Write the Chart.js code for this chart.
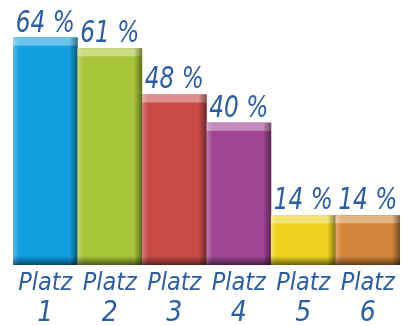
<!DOCTYPE html>
<html>
<head>
<meta charset="utf-8">
<script src="https://cdn.jsdelivr.net/npm/chart.js@4"></script>
<style>
  html, body { margin: 0; padding: 0; background: #fff; }
  #wrap { width: 408px; height: 326px; position: relative; }
</style>
</head>
<body>
<div id="wrap"><canvas id="platzChart"></canvas></div>
<script>
// --- data ---
const categories = ['Platz 1', 'Platz 2', 'Platz 3', 'Platz 4', 'Platz 5', 'Platz 6'];
const shares = [64, 61, 48, 40, 14, 14];
const valueLabels = ['64 %', '61 %', '48 %', '40 %', '14 %', '14 %'];
const barColors = ['#129fdf', '#a8c63a', '#c84b48', '#a04593', '#eed321', '#d4863b'];

const textBlue = '#2b5d9f';
const handFont = '"DejaVu Sans Condensed", "Liberation Sans Narrow", sans-serif';

// bevel look: light top strip, dark right and bottom edges
const bevelPlugin = {
  id: 'bevel',
  afterDatasetsDraw(chart) {
    const c = chart.ctx;
    chart.getDatasetMeta(0).data.forEach(bar => {
      const left = bar.x - bar.width / 2;
      const right = bar.x + bar.width / 2;
      const top = bar.y;
      const bottom = bar.base;
      const h = bottom - top;
      c.save();
      // top highlight
      c.fillStyle = 'rgba(255,255,255,0.38)';
      c.fillRect(left, top, bar.width, Math.min(8, h));
      // left highlight
      let g = c.createLinearGradient(left, 0, left + 6, 0);
      g.addColorStop(0, 'rgba(255,255,255,0.3)');
      g.addColorStop(1, 'rgba(255,255,255,0)');
      c.fillStyle = g;
      c.fillRect(left, top, 6, h);
      // right shadow
      g = c.createLinearGradient(right - 8, 0, right, 0);
      g.addColorStop(0, 'rgba(0,0,0,0)');
      g.addColorStop(1, 'rgba(0,0,0,0.45)');
      c.fillStyle = g;
      c.fillRect(right - 8, top, 8, h);
      // bottom shadow
      g = c.createLinearGradient(0, bottom - 9, 0, bottom);
      g.addColorStop(0, 'rgba(0,0,0,0)');
      g.addColorStop(1, 'rgba(0,0,0,0.55)');
      c.fillStyle = g;
      c.fillRect(left, bottom - 9, bar.width, 9);
      c.restore();
    });
  }
};

// value labels above the bars and category labels below
function squeezedText(c, txt, x, y, sx) {
  c.save();
  c.translate(x, y);
  c.scale(sx, 1);
  c.fillText(txt, 0, 0);
  c.restore();
}

const labelPlugin = {
  id: 'labels',
  afterDraw(chart) {
    const c = chart.ctx;
    const xs = chart.scales.x;
    const ys = chart.scales.y;
    c.save();
    c.fillStyle = textBlue;
    c.textAlign = 'center';
    c.textBaseline = 'alphabetic';
    shares.forEach((v, i) => {
      const x = xs.getPixelForValue(i);
      c.font = 'italic 30px ' + handFont;
      squeezedText(c, valueLabels[i], x, ys.getPixelForValue(v) - 6, 0.86);
      const parts = categories[i].split(' ');
      c.font = 'italic 25px ' + handFont;
      c.fillText(parts[0], x, 290);
      c.font = 'italic 28px ' + handFont;
      c.fillText(parts[1], x, 321);
    });
    c.restore();
  }
};

new Chart(document.getElementById('platzChart'), {
  type: 'bar',
  data: {
    labels: categories,
    datasets: [{
      data: shares,
      backgroundColor: barColors,
      borderWidth: 0,
      barPercentage: 1,
      categoryPercentage: 1
    }]
  },
  options: {
    responsive: true,
    maintainAspectRatio: false,
    animation: false,
    layout: { padding: { left: 13, right: 8, top: 0, bottom: 61 } },
    scales: {
      x: { display: false },
      y: { display: false, min: 0, max: 74.6 }
    },
    plugins: { legend: { display: false }, tooltip: { enabled: false } }
  },
  plugins: [bevelPlugin, labelPlugin]
});
</script>
</body>
</html>
